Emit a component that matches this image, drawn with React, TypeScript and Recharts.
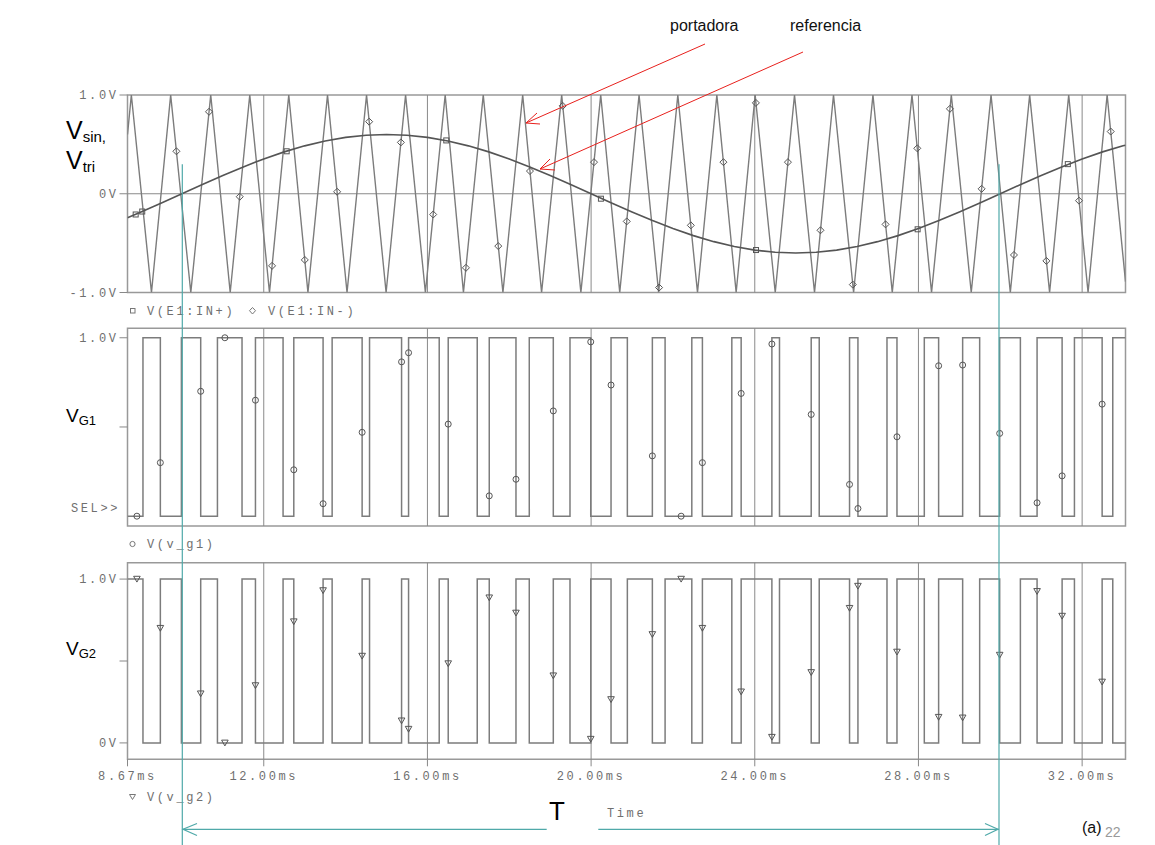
import React from 'react';
import { ComposedChart, Line, Scatter, XAxis, YAxis, ReferenceLine, ReferenceArea } from 'recharts';

// time axis (ms)
const tStart = 8.67;
const tEnd = 33.06;
const timeTicks = [8.67, 12, 16, 20, 24, 28, 32];
const gridTicks = [12, 16, 20, 24, 28, 32];

// carrier (portadora): vertex times
const triPeaks = [8.764, 9.725, 10.704, 11.658, 12.611, 13.558, 14.512, 15.466, 16.434, 17.364, 18.328, 19.281, 20.235, 21.172, 22.119, 23.073, 24.009, 24.971, 25.924, 26.888, 27.842, 28.803, 29.774, 30.718, 31.672, 32.611];
const triTroughs = [9.256, 10.217, 11.18, 12.14, 13.08, 14.035, 14.99, 15.95, 16.88, 17.845, 18.79, 19.75, 20.7, 21.65, 22.6, 23.545, 24.5, 25.46, 26.415, 27.36, 28.32, 29.29, 30.245, 31.205, 32.145];
const triStartV = 0.6;
const triEndV = -0.89;

// reference (referencia)
const sineT = [8.67, 9, 9.5, 10, 10.5, 11, 11.5, 12, 12.5, 13, 13.5, 14, 14.5, 15, 15.5, 16, 16.5, 17, 17.5, 18, 18.5, 19, 19.5, 20, 20.5, 21, 21.5, 22, 22.5, 23, 23.5, 24, 24.5, 25, 25.5, 26, 26.5, 27, 27.5, 28, 28.5, 29, 29.5, 30, 30.5, 31, 31.5, 32, 32.5, 33, 33.06];
const sineV = [-0.243, -0.185, -0.094, 0, 0.094, 0.185, 0.272, 0.353, 0.424, 0.485, 0.535, 0.571, 0.593, 0.6, 0.593, 0.571, 0.535, 0.485, 0.424, 0.353, 0.272, 0.185, 0.094, 0, -0.094, -0.185, -0.272, -0.353, -0.424, -0.485, -0.535, -0.571, -0.593, -0.6, -0.593, -0.571, -0.535, -0.485, -0.424, -0.353, -0.272, -0.185, -0.094, 0, 0.094, 0.185, 0.272, 0.353, 0.424, 0.485, 0.492];

// gate signals: switching instants (vG1 starts low, vG2 starts high)
const vg1Edges = [9.048, 9.473, 9.987, 10.459, 10.868, 11.469, 11.797, 12.472, 12.734, 13.45, 13.671, 14.404, 14.585, 15.368, 15.539, 16.288, 16.508, 17.217, 17.511, 18.164, 18.489, 19.076, 19.484, 19.991, 20.487, 20.886, 21.497, 21.808, 22.461, 22.72, 23.439, 23.667, 24.418, 24.604, 25.379, 25.575, 26.316, 26.521, 27.231, 27.475, 28.143, 28.493, 29.08, 29.496, 29.985, 30.491, 30.899, 31.511, 31.812, 32.489, 32.749];
const vg2Edges = vg1Edges;

// trace markers
const sqT = [8.87, 9.03, 12.56, 16.46, 20.24, 24.03, 27.98, 31.65];
const sqV = [-0.21, -0.18, 0.43, 0.54, -0.05, -0.57, -0.36, 0.3];
const diaT = [9.865, 10.662, 11.413, 12.203, 13.003, 13.793, 14.576, 15.351, 16.141, 16.941, 17.731, 18.506, 19.306, 20.071, 20.871, 21.661, 22.437, 23.234, 24.027, 24.81, 25.606, 26.396, 27.196, 27.971, 28.769, 29.544, 30.334, 31.126, 31.924, 32.699];
const diaV = [0.43, 0.83, -0.03, -0.73, -0.67, 0.02, 0.73, 0.52, -0.21, -0.75, -0.53, 0.23, 0.89, 0.32, -0.28, -0.95, -0.32, 0.32, 0.92, 0.32, -0.37, -0.92, -0.31, 0.46, 0.86, 0.05, -0.62, -0.68, -0.07, 0.63];
const gMarkT = [8.9, 9.473, 10.459, 11.05, 11.797, 12.734, 13.45, 14.404, 15.368, 15.539, 16.508, 17.511, 18.164, 19.076, 19.991, 20.487, 21.497, 22.2, 22.72, 23.667, 24.418, 25.379, 26.316, 26.521, 27.475, 28.493, 29.08, 29.985, 30.899, 31.511, 32.489];
const vg1MarkV = [0, 0.3, 0.7, 1, 0.65, 0.26, 0.07, 0.47, 0.865, 0.916, 0.516, 0.114, 0.207, 0.59, 0.977, 0.735, 0.338, 0, 0.3, 0.688, 0.965, 0.57, 0.178, 0.043, 0.445, 0.843, 0.847, 0.464, 0.075, 0.226, 0.628];
const vg2MarkV = [1, 0.7, 0.3, 0, 0.35, 0.74, 0.93, 0.53, 0.135, 0.084, 0.484, 0.886, 0.793, 0.41, 0.023, 0.265, 0.662, 1, 0.7, 0.312, 0.035, 0.43, 0.822, 0.957, 0.555, 0.157, 0.153, 0.536, 0.925, 0.774, 0.372];

const pairs = (ts: number[], vs: number[]) => ts.map((t, i) => ({ t, v: vs[i] }));

const triData = [
  { t: tStart, v: triStartV },
  ...[...triPeaks.map((t) => ({ t, v: 1 })), ...triTroughs.map((t) => ({ t, v: -1 }))].sort((a, b) => a.t - b.t),
  { t: tEnd, v: triEndV },
];
const sineData = pairs(sineT, sineV);

function stepData(edges: number[], startV: number) {
  let v = startV;
  const pts = [{ t: tStart, v }];
  edges.forEach((e) => {
    v = 1 - v;
    pts.push({ t: e, v });
  });
  pts.push({ t: tEnd, v });
  return pts;
}
const vg1Data = stepData(vg1Edges, 0);
const vg2Data = stepData(vg2Edges, 1);

const W = 1155;
const H = 845;
const PLOT_L = 127.5;
const PLOT_R = 1125.5;
const YW = 60;
const MONO = 'Liberation Mono, DejaVu Sans Mono, monospace';
const SANS = 'Liberation Sans, Arial, sans-serif';
const MK = '#555';
const TEAL = '#4fa9a9';

const tickStyle = { fill: '#6f6f6f', fontSize: 12, fontFamily: MONO, letterSpacing: 2.6 };

const Square = (p: any) => <rect x={p.cx - 2.5} y={p.cy - 2.5} width={5} height={5} fill="none" stroke={MK} strokeWidth={1} />;
const Diamond = (p: any) => (
  <polygon points={`${p.cx},${p.cy - 3.5} ${p.cx + 3.5},${p.cy} ${p.cx},${p.cy + 3.5} ${p.cx - 3.5},${p.cy}`} fill="none" stroke={MK} strokeWidth={1} />
);
const Circle = (p: any) => <circle cx={p.cx} cy={p.cy} r={3} fill="none" stroke={MK} strokeWidth={1} />;
const TriDown = (p: any) => (
  <polygon points={`${p.cx - 3.3},${p.cy - 2.8} ${p.cx + 3.3},${p.cy - 2.8} ${p.cx},${p.cy + 3}`} fill="none" stroke={MK} strokeWidth={1} />
);

function common(y1: number, y2: number) {
  return [
    ...gridTicks.map((g) => <ReferenceLine key={'g' + g} x={g} stroke="#8a8a8a" strokeWidth={1} />),
    <ReferenceArea key="frame" x1={tStart} x2={tEnd} y1={y1} y2={y2} fill="none" fillOpacity={0} stroke="#999" strokeWidth={1.5} />,
  ];
}

function margins(top: number, bottom: number, xAxisH: number) {
  return { top, bottom: H - bottom - xAxisH, left: PLOT_L - YW, right: W - PLOT_R };
}

const layer: React.CSSProperties = { position: 'absolute', left: 0, top: 0 };

export default function App() {
  return (
    <div style={{ position: 'absolute', left: 0, top: 0, width: W, height: H, background: '#fff' }}>
      {/* Vsin, Vtri */}
      <div style={layer}>
        <ComposedChart width={W} height={H} margin={margins(95, 292.5, 0)}>
          <XAxis type="number" dataKey="t" domain={[tStart, tEnd]} hide allowDataOverflow />
          <YAxis
            type="number"
            dataKey="v"
            domain={[-1, 1]}
            ticks={[-1, 0, 1]}
            tickFormatter={(v: number) => (v === 1 ? '1.0V' : v === -1 ? '-1.0V' : '0V')}
            width={YW}
            tickSize={8}
            tickMargin={1}
            axisLine={false}
            tickLine={{ stroke: '#888' }}
            tick={tickStyle}
            allowDataOverflow
          />
          <ReferenceLine y={0} stroke="#8a8a8a" strokeWidth={1} />
          {common(-1, 1)}
          <Line data={triData} dataKey="v" type="linear" stroke="#7c7c7c" strokeWidth={1.4} dot={false} isAnimationActive={false} />
          <Line data={sineData} dataKey="v" type="linear" stroke="#555" strokeWidth={1.6} dot={false} isAnimationActive={false} />
          <Scatter data={pairs(sqT, sqV)} dataKey="v" shape={Square} isAnimationActive={false} />
          <Scatter data={pairs(diaT, diaV)} dataKey="v" shape={Diamond} isAnimationActive={false} />
        </ComposedChart>
      </div>

      {/* vG1 */}
      <div style={layer}>
        <ComposedChart width={W} height={H} margin={margins(328.3, 526, 0)}>
          <XAxis type="number" dataKey="t" domain={[tStart, tEnd]} hide allowDataOverflow />
          <YAxis
            type="number"
            dataKey="v"
            domain={[-0.055, 1.053]}
            ticks={[0.5, 1]}
            tickFormatter={(v: number) => (v === 1 ? '1.0V' : '')}
            width={YW}
            tickSize={8}
            tickMargin={1}
            axisLine={false}
            tickLine={{ stroke: '#888' }}
            tick={tickStyle}
            allowDataOverflow
          />
          {common(-0.055, 1.053)}
          <Line data={vg1Data} dataKey="v" type="stepAfter" stroke="#7c7c7c" strokeWidth={1.5} dot={false} isAnimationActive={false} />
          <Scatter data={pairs(gMarkT, vg1MarkV)} dataKey="v" shape={Circle} isAnimationActive={false} />
        </ComposedChart>
      </div>

      {/* vG2 */}
      <div style={layer}>
        <ComposedChart width={W} height={H} margin={margins(562.7, 759.3, 30)}>
          <XAxis
            type="number"
            dataKey="t"
            domain={[tStart, tEnd]}
            ticks={timeTicks}
            tickFormatter={(v: number) => v.toFixed(2) + 'ms'}
            height={30}
            tickSize={7}
            tickMargin={5}
            axisLine={false}
            tickLine={{ stroke: '#888' }}
            tick={tickStyle}
            allowDataOverflow
          />
          <YAxis
            type="number"
            dataKey="v"
            domain={[-0.1, 1.1]}
            ticks={[0, 0.5, 1]}
            tickFormatter={(v: number) => (v === 1 ? '1.0V' : v === 0 ? '0V' : '')}
            width={YW}
            tickSize={8}
            tickMargin={1}
            axisLine={false}
            tickLine={{ stroke: '#888' }}
            tick={tickStyle}
            allowDataOverflow
          />
          {common(-0.1, 1.1)}
          <Line data={vg2Data} dataKey="v" type="stepAfter" stroke="#7c7c7c" strokeWidth={1.5} dot={false} isAnimationActive={false} />
          <Scatter data={pairs(gMarkT, vg2MarkV)} dataKey="v" shape={TriDown} isAnimationActive={false} />
        </ComposedChart>
      </div>

      {/* labels and annotations */}
      <svg width={W} height={H} style={{ ...layer, pointerEvents: 'none' }}>
        <text x={670} y={31} fontFamily={SANS} fontSize={16} fill="#111">portadora</text>
        <text x={790} y={31} fontFamily={SANS} fontSize={16} fill="#111">referencia</text>
        <g stroke="#e8201c" strokeWidth={1} fill="none">
          <line x1={705} y1={44} x2={526} y2={123} />
          <polyline points="537,113 526,123 540,124" />
          <line x1={803} y1={52} x2={540} y2={169} />
          <polyline points="550,159 540,169 555,170" />
        </g>

        <text x={66} y={139} fontFamily={SANS} fontSize={25} fill="#000">
          V<tspan fontSize={15} dy={3}>sin,</tspan>
        </text>
        <text x={66} y={169} fontFamily={SANS} fontSize={25} fill="#000">
          V<tspan fontSize={15} dy={3}>tri</tspan>
        </text>
        <text x={66} y={422} fontFamily={SANS} fontSize={19} fill="#000">
          V<tspan fontSize={13} dy={3}>G1</tspan>
        </text>
        <text x={66} y={655} fontFamily={SANS} fontSize={19} fill="#000">
          V<tspan fontSize={13} dy={3}>G2</tspan>
        </text>

        <g fontFamily={MONO} fontSize={12} fill="#6f6f6f" letterSpacing={2.6}>
          <rect x={130.5} y={308.5} width={4.5} height={4.5} fill="none" stroke="#777" />
          <text x={147} y={315}>V(E1:IN+)</text>
          <polygon points="252.5,307.5 255.5,310.7 252.5,314 249.5,310.7" fill="none" stroke="#777" />
          <text x={268} y={315}>V(E1:IN-)</text>
          <text x={71} y={512}>SEL&gt;&gt;</text>
          <circle cx={132.5} cy={544} r={2.6} fill="none" stroke="#777" />
          <text x={147} y={548}>V(v_g1)</text>
          <polygon points="129.5,794.5 135.5,794.5 132.5,799.5" fill="none" stroke="#777" />
          <text x={147} y={801}>V(v_g2)</text>
          <text x={607} y={817}>Time</text>
        </g>

        <g stroke={TEAL} strokeWidth={1.2} fill="none">
          <line x1={182.3} y1={164.3} x2={182.3} y2={845} />
          <line x1={999} y1={164.3} x2={999} y2={845} />
          <line x1={182.3} y1={829.3} x2={546.7} y2={829.3} />
          <line x1={598.3} y1={829.3} x2={999} y2={829.3} />
          <polyline points="197,823.5 183,829.3 197,835.5" />
          <polyline points="985,823.5 998,829.3 985,835.5" />
        </g>
        <text x={549} y={820} fontFamily={SANS} fontSize={26} fill="#000">T</text>
        <text x={1082} y={833} fontFamily={SANS} fontSize={16} fill="#111">(a)</text>
        <text x={1105} y={837} fontFamily={SANS} fontSize={14} fill="#999">22</text>
      </svg>
    </div>
  );
}
